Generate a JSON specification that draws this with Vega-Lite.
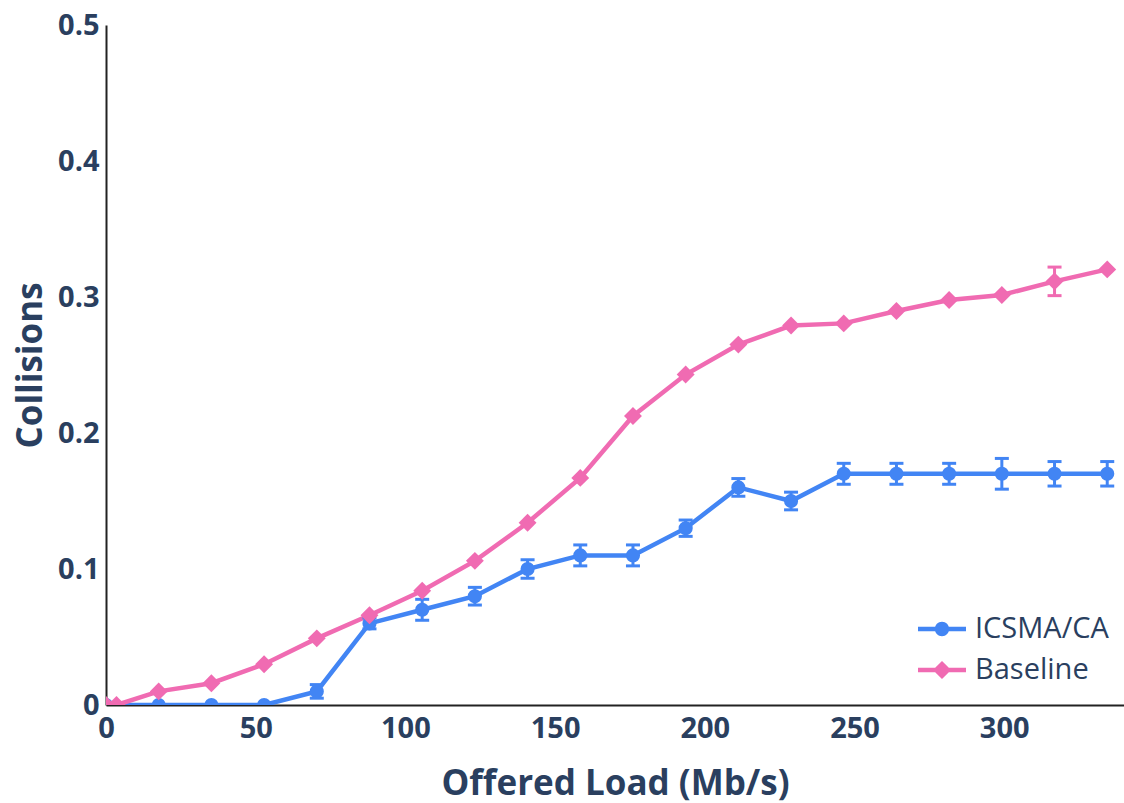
{
  "$schema": "https://vega.github.io/schema/vega-lite/v6.json",
  "width": 1018,
  "height": 680,
  "autosize": {"type": "none"},
  "padding": {"left": 106, "top": 25, "right": 0, "bottom": 98},
  "background": "white",
  "config": {
    "view": {"stroke": null},
    "font": "Open Sans",
    "axis": {
      "grid": false,
      "ticks": false,
      "labelFlush": false,
      "domainColor": "#222222",
      "domainWidth": 2,
      "labelFont": "Open Sans",
      "labelFontWeight": "bold",
      "labelFontSize": 29,
      "labelColor": "#2a3f5f",
      "titleFont": "Open Sans",
      "titleFontWeight": "bold",
      "titleFontSize": 35,
      "titleColor": "#2a3f5f"
    }
  },
  "data": {
    "values": [
      {"series": "ICSMA/CA", "x": 0, "y": 0, "err": 0},
      {"series": "ICSMA/CA", "x": 17.6, "y": 0, "err": 0},
      {"series": "ICSMA/CA", "x": 35.2, "y": 0, "err": 0},
      {"series": "ICSMA/CA", "x": 52.8, "y": 0, "err": 0},
      {"series": "ICSMA/CA", "x": 70.4, "y": 0.01, "err": 0.005},
      {"series": "ICSMA/CA", "x": 88, "y": 0.06, "err": 0.004},
      {"series": "ICSMA/CA", "x": 105.6, "y": 0.07, "err": 0.0077},
      {"series": "ICSMA/CA", "x": 123.2, "y": 0.08, "err": 0.0065},
      {"series": "ICSMA/CA", "x": 140.8, "y": 0.1, "err": 0.0068},
      {"series": "ICSMA/CA", "x": 158.4, "y": 0.11, "err": 0.0077},
      {"series": "ICSMA/CA", "x": 176, "y": 0.11, "err": 0.0077},
      {"series": "ICSMA/CA", "x": 193.6, "y": 0.13, "err": 0.006},
      {"series": "ICSMA/CA", "x": 211.2, "y": 0.16, "err": 0.0065},
      {"series": "ICSMA/CA", "x": 228.8, "y": 0.15, "err": 0.0065},
      {"series": "ICSMA/CA", "x": 246.4, "y": 0.17, "err": 0.0077},
      {"series": "ICSMA/CA", "x": 264, "y": 0.17, "err": 0.0077},
      {"series": "ICSMA/CA", "x": 281.6, "y": 0.17, "err": 0.0077},
      {"series": "ICSMA/CA", "x": 299.2, "y": 0.17, "err": 0.0113},
      {"series": "ICSMA/CA", "x": 316.8, "y": 0.17, "err": 0.009},
      {"series": "ICSMA/CA", "x": 334.4, "y": 0.17, "err": 0.009},
      {"series": "Baseline", "x": 0, "y": 0, "err": 0},
      {"series": "Baseline", "x": 3.5, "y": 0, "err": 0},
      {"series": "Baseline", "x": 17.6, "y": 0.01, "err": 0},
      {"series": "Baseline", "x": 35.2, "y": 0.016, "err": 0},
      {"series": "Baseline", "x": 52.8, "y": 0.03, "err": 0},
      {"series": "Baseline", "x": 70.4, "y": 0.049, "err": 0},
      {"series": "Baseline", "x": 88, "y": 0.066, "err": 0},
      {"series": "Baseline", "x": 105.6, "y": 0.084, "err": 0},
      {"series": "Baseline", "x": 123.2, "y": 0.106, "err": 0},
      {"series": "Baseline", "x": 140.8, "y": 0.134, "err": 0},
      {"series": "Baseline", "x": 158.4, "y": 0.167, "err": 0},
      {"series": "Baseline", "x": 176, "y": 0.2125, "err": 0},
      {"series": "Baseline", "x": 193.6, "y": 0.243, "err": 0},
      {"series": "Baseline", "x": 211.2, "y": 0.265, "err": 0},
      {"series": "Baseline", "x": 228.8, "y": 0.279, "err": 0},
      {"series": "Baseline", "x": 246.4, "y": 0.2806, "err": 0},
      {"series": "Baseline", "x": 264, "y": 0.2897, "err": 0},
      {"series": "Baseline", "x": 281.6, "y": 0.2978, "err": 0},
      {"series": "Baseline", "x": 299.2, "y": 0.3015, "err": 0},
      {"series": "Baseline", "x": 316.8, "y": 0.3115, "err": 0.0105},
      {"series": "Baseline", "x": 334.4, "y": 0.3203, "err": 0}
    ]
  },
  "encoding": {
    "x": {
      "field": "x",
      "type": "quantitative",
      "scale": {"domain": [0, 340], "nice": false, "zero": false},
      "axis": {
        "title": "Offered Load (Mb/s)",
        "values": [0, 50, 100, 150, 200, 250, 300],
        "labelPadding": 9,
        "titleY": 78,
        "titleBaseline": "middle"
      }
    },
    "y": {
      "field": "y",
      "type": "quantitative",
      "scale": {"domain": [0, 0.5], "nice": false},
      "axis": {
        "title": "Collisions",
        "values": [0, 0.1, 0.2, 0.3, 0.4, 0.5],
        "format": "~g",
        "labelPadding": 7,
        "titleX": -76,
        "titleY": 340,
        "titleAngle": -90,
        "titleAlign": "center",
        "titleBaseline": "middle"
      }
    }
  },
  "layer": [
    {
      "mark": {"type": "line", "strokeWidth": 4.5, "clip": true},
      "encoding": {
        "color": {
          "field": "series",
          "type": "nominal",
          "scale": {"domain": ["ICSMA/CA", "Baseline"], "range": ["#4285F4", "#F06BB2"]},
          "legend": {
            "title": null,
            "orient": "none",
            "legendX": 812,
            "legendY": 580,
            "padding": 0,
            "symbolSize": 2304,
            "labelFont": "Open Sans",
            "labelFontSize": 29,
            "labelFontWeight": "normal",
            "labelColor": "#2a3f5f",
            "labelOffset": 9,
            "rowPadding": 2,
            "encode": {
              "symbols": {
                "update": {
                  "shape": {"signal": "datum.value === 'ICSMA/CA' ? 'M-1,-0.09H1V0.09H-1Z M-0.3,0A0.3,0.3 0 1,1 0.3,0A0.3,0.3 0 1,1 -0.3,0Z' : 'M-1,-0.09H1V0.09H-1Z M0,-0.38L0.38,0L0,0.38L-0.38,0Z'"},
                  "fill": {"signal": "datum.value === 'ICSMA/CA' ? '#4285F4' : '#F06BB2'"},
                  "stroke": {"value": "transparent"},
                  "strokeWidth": {"value": 0},
                  "opacity": {"value": 1}
                }
              }
            }
          }
        }
      }
    },
    {
      "transform": [{"filter": "datum.err > 0"}],
      "mark": {"type": "errorbar", "ticks": {"size": 14, "thickness": 3, "opacity": 1}, "rule": {"opacity": 1}, "thickness": 3, "opacity": 1, "clip": true},
      "encoding": {
        "y": {"field": "y", "type": "quantitative"},
        "yError": {"field": "err"},
        "color": {"field": "series", "type": "nominal", "legend": null}
      }
    },
    {
      "transform": [{"filter": "datum.series === 'ICSMA/CA'"}],
      "mark": {"type": "point", "shape": "circle", "filled": true, "opacity": 1, "size": 200, "color": "#4285F4", "clip": true}
    },
    {
      "transform": [{"filter": "datum.series === 'Baseline'"}],
      "mark": {"type": "point", "shape": "diamond", "filled": true, "opacity": 1, "size": 320, "color": "#F06BB2", "clip": true}
    }
  ]
}
